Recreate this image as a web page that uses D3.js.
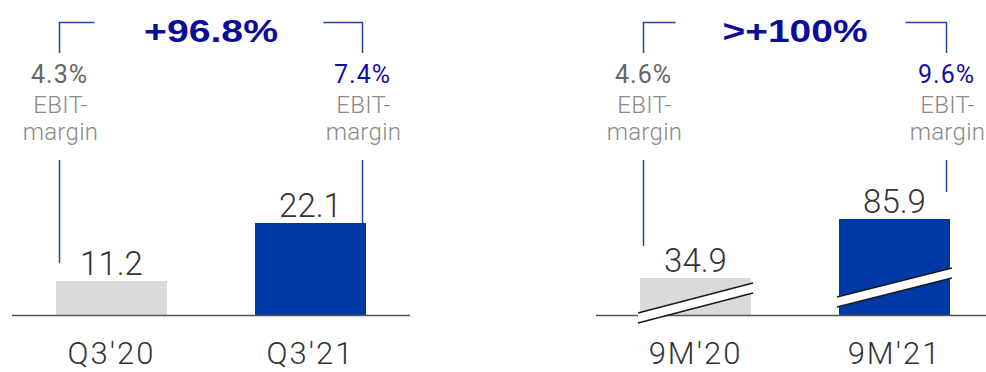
<!DOCTYPE html>
<html>
<head>
<meta charset="utf-8">
<script src="https://cdn.jsdelivr.net/npm/d3@7"></script>
<style>
  body { margin: 0; background: #fff; }
  svg { display: block; }
</style>
</head>
<body>
<div id="chart"></div>
<script>
// Q3 panel
const quarterCategories = ["Q3'20", "Q3'21"];
const quarterValues = [11.2, 22.1];
const quarterMargins = ['4.3%', '7.4%'];
const quarterGrowth = '+96.8%';

// 9M panel (broken bars)
const nineMonthCategories = ["9M'20", "9M'21"];
const nineMonthValues = [34.9, 85.9];
const nineMonthMargins = ['4.6%', '9.6%'];
const nineMonthGrowth = '>+100%';

const COLORS = {
  prior: '#dadada',
  current: '#0039a6',
  bracket: '#1e46ad',
  growth: '#0c0c9a',
  marginPrior: '#666666',
  marginCurrent: '#1212a0',
  label: '#8a8a8a',
  text: '#333333',
  axis: '#555555',
};

const FONT = 'Roboto, "Liberation Sans", sans-serif';
const W = 986, H = 372;
const svg = d3.select('#chart').append('svg').attr('width', W).attr('height', H)
  .style('font-family', FONT);

const panels = [
  {
    categories: quarterCategories, values: quarterValues, margins: quarterMargins, growth: quarterGrowth,
    xRange: [111.5, 310.5], axis: [12, 410], yDomain: [4.8, 22.1], yRange: [315, 223],
    broken: false, bracketDrop: [18, 0], topLen: [35, 39], growthWidth: 134,
  },
  {
    categories: nineMonthCategories, values: nineMonthValues, margins: nineMonthMargins, growth: nineMonthGrowth,
    xRange: [695.5, 894.5], axis: [596, 986], yDomain: [2.9, 85.9], yRange: [315, 219],
    broken: true, bracketDrop: [32, 27], topLen: [32, 41], growthWidth: 145,
  },
];

const barWidth = 111;
const baseY = 315;

panels.forEach(p => {
  const g = svg.append('g');
  const x = d3.scalePoint().domain(p.categories).range(p.xRange);
  const y = d3.scaleLinear().domain(p.yDomain).range(p.yRange);
  const rows = p.categories.map((c, i) => ({ cat: c, value: p.values[i], margin: p.margins[i], i }));

  // Bars
  g.selectAll('.bar')
    .data(rows)
    .join('rect')
    .attr('class', 'bar')
    .attr('x', d => x(d.cat) - barWidth / 2)
    .attr('y', d => y(d.value))
    .attr('width', barWidth)
    .attr('height', d => baseY - y(d.value))
    .attr('fill', d => d.i === 0 ? COLORS.prior : COLORS.current);

  // Baseline
  g.append('line')
    .attr('x1', p.axis[0]).attr('x2', p.axis[1])
    .attr('y1', baseY + 0.5).attr('y2', baseY + 0.5)
    .attr('stroke', COLORS.axis).attr('stroke-width', 1.5);

  // Axis break marks
  if (p.broken) {
    const breaks = [
      { dy0: -2, dy1: -32 },
      { dy0: -18, dy1: -47 },
    ];
    rows.forEach((d, k) => {
      const b = breaks[k];
      const x0 = x(d.cat) - barWidth / 2 - 2, x1 = x(d.cat) + barWidth / 2 + 2;
      const y0 = baseY + b.dy0, y1 = baseY + b.dy1;
      g.append('polygon')
        .attr('points', `${x0},${y0} ${x1},${y1} ${x1},${y1 + 10} ${x0},${y0 + 10}`)
        .attr('fill', '#fff');
      [0, 10].forEach(off => {
        g.append('line')
          .attr('x1', x0).attr('y1', y0 + off)
          .attr('x2', x1).attr('y2', y1 + off)
          .attr('stroke', '#1a1a1a').attr('stroke-width', 1.6);
      });
    });
  }

  // Value labels
  g.selectAll('.val')
    .data(rows)
    .join('text')
    .attr('x', d => x(d.cat))
    .attr('y', d => y(d.value) - 6)
    .attr('text-anchor', 'middle')
    .attr('font-size', 33)
    .attr('font-weight', 300)
    .attr('fill', COLORS.text)
    .text(d => d.value.toFixed(1));

  // Category labels
  g.selectAll('.cat')
    .data(rows)
    .join('text')
    .attr('x', d => x(d.cat))
    .attr('y', 364)
    .attr('text-anchor', 'middle')
    .attr('font-size', 31)
    .attr('font-weight', 300)
    .attr('letter-spacing', 2)
    .attr('fill', COLORS.text)
    .text(d => d.cat);

  // Brackets + EBIT margin labels
  rows.forEach(d => {
    const side = d.i === 0 ? -1 : 1;
    const bx = x(d.cat) + side * 52;
    const topY = 22.5;
    const hx = bx - side * p.topLen[d.i];
    g.append('path')
      .attr('d', `M${hx},${topY}H${bx}V53`)
      .attr('fill', 'none').attr('stroke', COLORS.bracket).attr('stroke-width', 1.5);
    g.append('line')
      .attr('x1', bx).attr('x2', bx)
      .attr('y1', 160).attr('y2', y(d.value) - p.bracketDrop[d.i])
      .attr('stroke', COLORS.bracket).attr('stroke-width', 1.5);

    g.append('text')
      .attr('x', bx).attr('y', 83)
      .attr('text-anchor', 'middle')
      .attr('font-size', 25)
      .attr('letter-spacing', 1)
      .attr('fill', d.i === 0 ? COLORS.marginPrior : COLORS.marginCurrent)
      .text(d.margin);
    ['EBIT-', 'margin'].forEach((t, j) => {
      g.append('text')
        .attr('x', bx + 1).attr('y', 113 + j * 27)
        .attr('text-anchor', 'middle')
        .attr('font-size', 24)
        .attr('font-weight', 300)
        .attr('letter-spacing', 0.3)
        .attr('fill', COLORS.label)
        .text(t);
    });
  });

  // Growth headline
  g.append('text')
    .attr('x', (p.xRange[0] + p.xRange[1]) / 2 - p.growthWidth / 2)
    .attr('y', 42)
    .attr('textLength', p.growthWidth)
    .attr('lengthAdjust', 'spacingAndGlyphs')
    .style('font-family', '"Liberation Sans", Arial, sans-serif')
    .attr('font-weight', 'bold')
    .attr('font-size', 31)
    .attr('fill', COLORS.growth)
    .text(p.growth);
});
</script>
</body>
</html>
